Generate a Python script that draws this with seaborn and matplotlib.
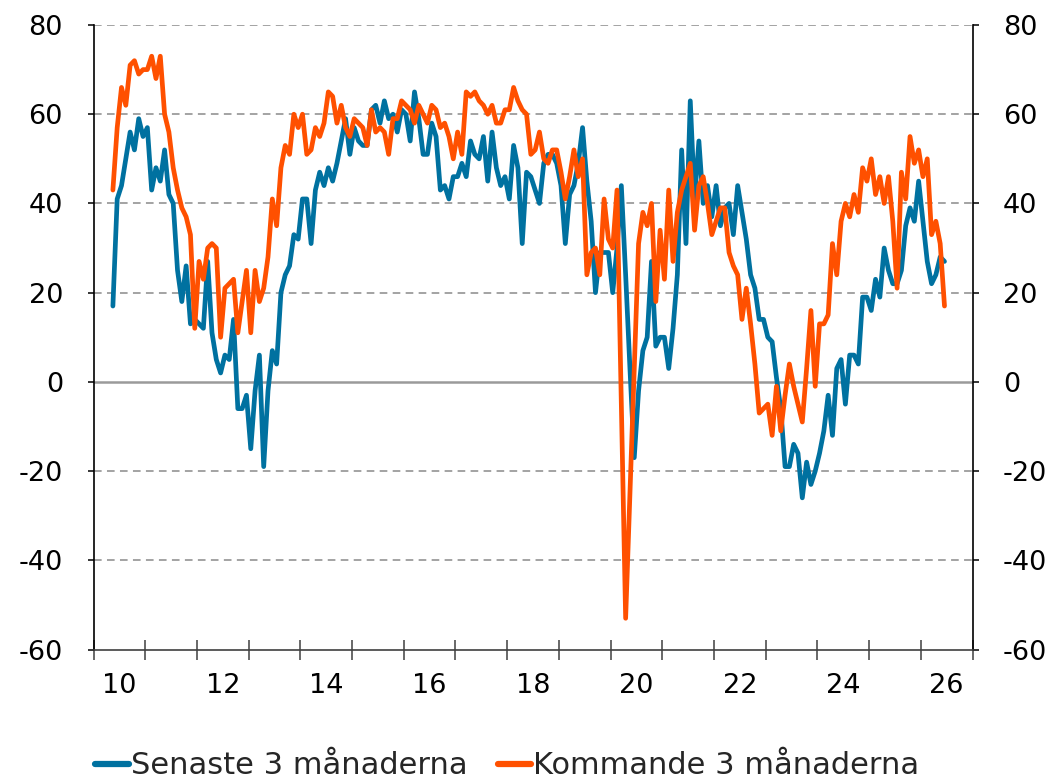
import numpy as np
import pandas as pd
import matplotlib
matplotlib.use("Agg")
import matplotlib.pyplot as plt
import seaborn as sns

# Monthly survey balances, starting May 2010
senaste = [
    17, 41, 44, 50, 56, 52, 59, 55, 57, 43, 48, 45, 52, 42, 40,
    25, 18, 26, 13, 14, 13, 12, 27, 11, 5, 2, 6, 5, 14, -6,
    -6, -3, -15, -2, 6, -19, -2, 7, 4, 20, 24, 26, 33, 32, 41,
    41, 31, 43, 47, 44, 48, 45, 49, 54, 59, 51, 57, 54, 53, 53,
    61, 62, 58, 63, 59, 60, 56, 61, 60, 54, 65, 59, 51, 51, 58,
    55, 43, 44, 41, 46, 46, 49, 46, 54, 51, 50, 55, 45, 56, 48,
    44, 46, 41, 53, 48, 31, 47, 46, 43, 40, 49, 51, 51, 49, 44,
    31, 42, 44, 49, 57, 45, 36, 20, 29, 29, 29, 20, 30, 44, 24,
    3, -17, -2, 7, 10, 27, 8, 10, 10, 3, 12, 24, 52, 31, 63,
    41, 54, 40, 44, 37, 44, 35, 39, 40, 33, 44, 38, 32, 24, 21,
    14, 14, 10, 9, 1, -6, -19, -19, -14, -16, -26, -18, -23, -20, -16,
    -11, -3, -12, 3, 5, -5, 6, 6, 4, 19, 19, 16, 23, 19, 30,
    25, 22, 22, 25, 35, 39, 36, 45, 36, 27, 22, 24, 28, 27,
]
kommande = [
    43, 57, 66, 62, 71, 72, 69, 70, 70, 73, 68, 73, 60, 56, 48,
    43, 39, 37, 33, 12, 27, 23, 30, 31, 30, 10, 21, 22, 23, 11,
    18, 25, 11, 25, 18, 21, 28, 41, 35, 48, 53, 51, 60, 57, 60,
    51, 52, 57, 55, 58, 65, 64, 58, 62, 57, 55, 59, 58, 57, 53,
    61, 56, 57, 56, 51, 59, 59, 63, 62, 61, 58, 62, 60, 58, 62,
    61, 57, 58, 55, 50, 56, 51, 65, 64, 65, 63, 62, 60, 62, 58,
    58, 61, 61, 66, 63, 61, 60, 51, 52, 56, 50, 49, 52, 52, 47,
    41, 46, 52, 46, 50, 24, 29, 30, 24, 41, 32, 30, 43, -5, -53,
    -25, 3, 31, 38, 35, 40, 18, 34, 23, 43, 27, 38, 43, 46, 49,
    34, 44, 46, 40, 33, 36, 39, 39, 29, 26, 24, 14, 21, 13, 4,
    -7, -6, -5, -12, -1, -11, -3, 4, -1, -5, -9, 3, 16, -1, 13,
    13, 15, 31, 24, 36, 40, 37, 42, 38, 48, 45, 50, 42, 46, 40,
    46, 36, 21, 47, 41, 55, 49, 52, 46, 50, 33, 36, 31, 17,
]
series_names = ["Senaste 3 månaderna", "Kommande 3 månaderna"]
series_colors = ["#0071A0", "#FF5000"]
year_labels = ["10", "12", "14", "16", "18", "20", "22", "24", "26"]
y_ticks = [80, 60, 40, 20, 0, -20, -40, -60]
start_year, start_month = 2010, 5

n = len(senaste)
t = start_year + (start_month - 1 + 0.5 + np.arange(n)) / 12.0
df = pd.DataFrame({
    "t": np.concatenate([t, t]),
    "value": senaste + kommande,
    "serie": [series_names[0]] * n + [series_names[1]] * n,
})

sns.set_theme(style="white")
plt.rcParams["font.family"] = ["DejaVu Sans"]

fig = plt.figure(figsize=(10.61, 7.82), dpi=100)
ax = fig.add_axes([93.5 / 1061, 1 - 649.5 / 782, (972.5 - 93.5) / 1061, (649.5 - 25) / 782])

sns.lineplot(data=df, x="t", y="value", hue="serie", palette=series_colors,
             linewidth=3.4, sort=False, legend=False, ax=ax, zorder=3)

ax.set_xlim(2010, 2027)
ax.set_ylim(-60, 80)
ax.set_xlabel("")
ax.set_ylabel("")

# horizontal reference lines
for y in y_ticks:
    if y == 0:
        ax.axhline(y, color="#9a9a9a", lw=1.8, zorder=2)
    elif y != -60:
        ax.axhline(y, color="#8a8a8a", lw=1.1, ls=(0, (5, 3.5)), zorder=1)

# x axis: year boundaries as ticks, labels centred in every other year
ax.set_xticks(np.arange(2010, 2028))
ax.set_xticklabels([])
ax.set_xticks([int("20" + s) + 0.5 for s in year_labels], minor=True)
ax.set_xticklabels(year_labels, minor=True)
ax.tick_params(axis="x", which="major", direction="inout", length=14, width=1.1,
               color="#404040", bottom=True)
ax.tick_params(axis="x", which="minor", length=0, pad=17, labelsize=19.5,
               labelcolor="black")

# y axis on both sides
ax.set_yticks(y_ticks)
ax.set_yticklabels([str(v) for v in y_ticks])
ax.tick_params(axis="y", which="major", direction="out", length=4, width=1.1,
               color="black", left=True, right=True, labelleft=True,
               labelright=True, pad=18, labelsize=19.5, labelcolor="black")

for side in ["left", "right"]:
    ax.spines[side].set_color("black")
    ax.spines[side].set_linewidth(1.2)
ax.spines["bottom"].set_color("#404040")
ax.spines["bottom"].set_linewidth(1.2)
ax.spines["top"].set_visible(False)

handles = [plt.Line2D([], [], color=c, lw=4.5) for c in series_colors]
fig.legend(handles, series_names, loc="center", bbox_to_anchor=(0.478, 1 - 766 / 782),
           ncol=2, frameon=False, fontsize=22, handlelength=1.1, handletextpad=0.05,
           columnspacing=1.0)

fig.savefig("out.png", dpi=100)
